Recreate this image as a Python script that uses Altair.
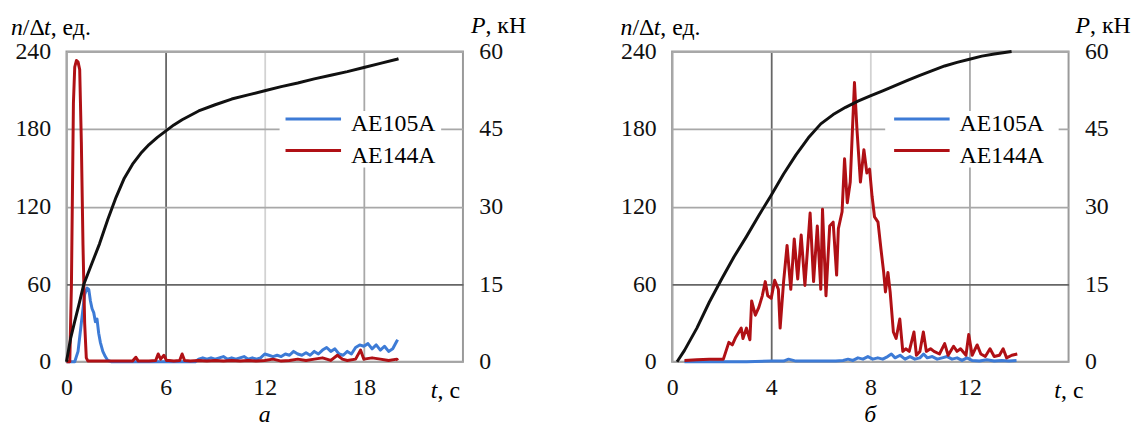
import altair as alt
import pandas as pd

SERIES = ["AE105A", "AE144A"]
COLORS = ["#3d7bd6", "#b01015"]
BLACK = "#111111"

# ---------------- panel а ----------------
tA_P = [0, 0.25, 0.5, 0.75, 1.05, 1.5, 2.0, 2.5, 3.0, 3.5, 4.0, 4.5, 5.0, 5.5, 6.0, 6.5, 7.0,
        8.0, 9.0, 10.0, 11.0, 12.0, 13.0, 14.0, 15.0, 16.0, 17.0, 18.0, 19.0, 20.0, 20.1]
PA = [0, 4.5, 7.8, 11.0, 15.0, 18.7, 22.8, 27.5, 31.8, 35.5, 38.2, 40.3, 42.0, 43.4, 44.6, 45.8, 46.8,
      48.5, 49.7, 50.8, 51.6, 52.4, 53.2, 53.9, 54.7, 55.4, 56.1, 56.9, 57.7, 58.5, 58.6]

tA_105 = [0, 0.5, 0.7, 0.9, 1.1, 1.25, 1.35, 1.45, 1.55, 1.65, 1.75, 1.85, 1.95, 2.05, 2.2, 2.35, 2.5, 2.7,
          3.0, 5.0, 7.0, 7.8,
          8.0, 8.25, 8.5, 8.75, 9.0, 9.25, 9.5, 9.75, 10.0, 10.25, 10.5, 10.75, 11.0, 11.25, 11.5, 11.75,
          12.0, 12.25, 12.5, 12.75, 13.0, 13.25, 13.5, 13.75, 14.0, 14.25, 14.5, 14.75, 15.0, 15.25, 15.5,
          15.75, 16.0, 16.25, 16.5, 16.75, 17.0, 17.25, 17.5, 17.75, 18.0, 18.25, 18.5, 18.75, 19.0, 19.25,
          19.5, 19.75, 20.0, 20.05]
nA_105 = [0, 0, 8, 30, 52, 57, 56, 47, 41, 38, 31, 33, 22, 15, 8, 4, 1, 0,
          0, 0, 0, 0,
          2, 3, 2, 3, 2, 3, 4, 2, 3, 2, 3, 4, 2, 3, 2, 3,
          6, 5, 4, 5, 4, 6, 5, 8, 6, 5, 7, 5, 8, 6, 9,
          11, 8, 10, 6, 5, 8, 6, 11, 13, 12, 14, 10, 13, 9, 12,
          8, 10, 16, 17]

tA_144 = [0, 0.2, 0.3, 0.42, 0.5, 0.6, 0.7, 0.8, 0.9, 1.0, 1.1, 1.2, 1.3,
          1.5, 2.0, 2.5, 3.0, 3.5, 4.0, 4.2, 4.35, 5.0, 5.4, 5.55, 5.7, 5.9, 6.05, 6.2, 6.5, 6.85, 7.0, 7.15,
          7.5, 8.0, 8.5, 9.0, 9.5, 10.0, 10.5, 11.0, 11.5, 12.0, 12.5, 13.0, 13.5, 14.0, 14.5, 15.0, 15.5,
          16.0, 16.4, 16.7, 17.0, 17.5, 17.8, 18.0, 18.5, 19.0, 19.5, 20.0, 20.05]
nA_144 = [0, 0, 60, 200, 228, 233, 232, 226, 170, 90, 30, 3, 0.5,
          0.5, 0.5, 0.5, 0.5, 0.5, 0.5, 3.5, 0.5, 0.5, 1, 6, 2, 5, 1, 1, 0.5, 1, 6, 1,
          0.5, 1, 0.5, 1, 0.5, 1, 0.5, 1, 0.5, 1, 2, 0.5, 1, 2, 1, 2, 3,
          1, 5, 2, 1, 2, 9, 2, 3, 2, 1, 2, 1]

# ---------------- panel б ----------------
tB_P = [0.2, 0.5, 1.0, 1.5, 2.0, 2.5, 3.0, 3.5, 4.0, 4.5, 5.0, 5.5, 6.0, 6.5, 7.0, 7.5, 8.0, 8.5, 9.0,
        9.5, 10.0, 10.5, 11.0, 11.5, 12.0, 12.5, 13.0, 13.7]
PB = [0, 2.2, 6.5, 11.5, 16.0, 20.3, 24.2, 28.3, 32.2, 36.3, 40.0, 43.3, 46.0, 47.8, 49.2, 50.4, 51.4,
      52.4, 53.4, 54.4, 55.4, 56.3, 57.2, 57.9, 58.5, 59.1, 59.5, 60.0]

tB_105 = [0.5, 1, 2, 3, 4, 4.5, 4.7, 5, 6, 6.6, 6.9, 7.1, 7.3, 7.5, 7.7, 7.9, 8.1, 8.3, 8.5, 8.7, 8.85,
          9.0, 9.2, 9.4, 9.6, 9.8, 10.0, 10.15, 10.3, 10.5, 10.7, 10.9, 11.1, 11.3, 11.5, 11.7, 11.9, 12.1,
          12.4, 12.7, 13.0, 13.3, 13.6, 13.9]
nB_105 = [0, 0, 0, 0, 0.5, 0.5, 2, 0.5, 0.5, 0.5, 1, 2, 1, 3, 2, 4, 2, 3, 2, 4, 6,
          3, 5, 2, 4, 2, 3, 6, 3, 4, 2, 3, 4, 2, 3, 1, 3, 1,
          0.5, 1.5, 0.5, 1, 0.5, 1]

tB_144 = [0.5, 1.0, 1.5, 2.07, 2.29, 2.43, 2.57, 2.79, 2.86, 3.0, 3.14, 3.21, 3.36, 3.5, 3.64, 3.76, 3.86,
          4.0, 4.14, 4.29, 4.36, 4.5, 4.64, 4.79, 4.93, 5.07, 5.21, 5.36, 5.57, 5.71, 5.86, 6.0, 6.07, 6.21,
          6.36, 6.5, 6.64, 6.71, 6.86, 6.96, 7.07, 7.19, 7.29, 7.36, 7.46, 7.6, 7.74, 7.86, 7.97, 8.07, 8.17,
          8.31, 8.43, 8.54, 8.61, 8.71, 8.8, 8.93, 9.04, 9.19, 9.31, 9.43, 9.57, 9.76, 9.86, 10.0, 10.14,
          10.26, 10.43, 10.57, 10.79, 11.0, 11.14, 11.36, 11.5, 11.64, 11.86, 11.97, 12.11, 12.31, 12.46,
          12.64, 12.83, 13.0, 13.21, 13.36, 13.5, 13.71, 13.93]
nB_144 = [1, 1.5, 2, 2, 15, 13, 19, 26, 18, 26, 17, 47, 36, 42, 51, 62, 51,
          49, 63, 56, 26, 62, 90, 56, 95, 64, 98, 59, 115, 62, 105, 56, 118, 51,
          105, 108, 67, 103, 116, 157, 123, 139, 185, 216, 180, 139, 164, 146, 149, 128, 112,
          108, 87, 69, 54, 69, 54, 23, 18, 33, 8, 10, 8, 23, 5, 8, 23,
          8, 10, 8, 6, 14, 5, 12, 8, 10, 5, 21, 5, 13, 6,
          4, 10, 4, 5, 10, 3, 5, 6]

N_TICKS = [0, 60, 120, 180, 240]
P_TICKS = [0, 15, 30, 45, 60]

FONT_A = "Times New Roman"
FONT_B = "Liberation Serif"
FS = 24
W, H = 400, 313
ONE = pd.DataFrame({"k": [0]})


def txt(s, x, y, font, italic=False, align="left", size=FS):
    kw = dict(text=s, font=font, fontSize=size, align=align, baseline="alphabetic")
    if italic:
        kw["fontStyle"] = "italic"
    return alt.Chart(ONE).mark_text(**kw).encode(x=alt.value(x), y=alt.value(y))


def grid_color(dark, light):
    return {"condition": [{"test": f"datum.value == {dark}", "value": "#666666"},
                          {"test": f"datum.value == {light}", "value": "#d2d2d2"}],
            "value": "#a8a8a8"}


def panel(t105, n105, t144, n144, tP, P, xmax, xticks, title_x, p_x, tc_x, leg_dx, box, caption, font):
    dfn = pd.DataFrame({
        "t": t105 + t144,
        "n": n105 + n144,
        "s": [SERIES[0]] * len(t105) + [SERIES[1]] * len(t144),
    })
    dfP = pd.DataFrame({"t": tP, "P": P})
    x = alt.X("t:Q", scale=alt.Scale(domain=[0, xmax], nice=False, zero=False),
              axis=alt.Axis(values=xticks, title=None, grid=True, labelFlush=False, labelPadding=14,
                            labelFont=font, labelFontSize=FS, labelColor="#111111", ticks=False,
                            domain=False, gridWidth=1.8,
                            gridColor=grid_color(xticks[1], xticks[2])))
    lines = alt.Chart(dfn).mark_line(strokeWidth=3, strokeJoin="round").encode(
        x=x,
        y=alt.Y("n:Q", scale=alt.Scale(domain=[0, 240], nice=False),
                axis=alt.Axis(values=N_TICKS, title=None, grid=True, labelFlush=False, labelPadding=16,
                              labelFont=font, labelFontSize=FS, labelColor="#111111", ticks=False,
                              domain=False, gridWidth=1.8,
                              gridColor=grid_color(60, -1))),
        color=alt.Color("s:N", scale=alt.Scale(domain=SERIES, range=COLORS), legend=None),
        order=alt.Order("t:Q"),
    )
    black = alt.Chart(dfP).mark_line(strokeWidth=3, color=BLACK, strokeJoin="round").encode(
        x=alt.X("t:Q"),
        y=alt.Y("P:Q", scale=alt.Scale(domain=[0, 60], nice=False),
                axis=alt.Axis(values=P_TICKS, title=None, orient="right", grid=False,
                              labelFont=font, labelFontSize=FS, labelColor="#111111", ticks=False,
                              domain=False, labelFlush=False, labelPadding=16)),
    )
    bx = alt.Chart(ONE).mark_rect(fill="white").encode(
        x=alt.value(box[0]), x2=alt.value(box[1]), y=alt.value(60), y2=alt.value(117))
    leg = [bx]
    for i, (name, col) in enumerate(zip(SERIES, COLORS)):
        yy = 68 + 32 * i
        leg.append(alt.Chart(ONE).mark_rule(color=col, strokeWidth=3).encode(
            x=alt.value(221 + leg_dx), x2=alt.value(277 + leg_dx), y=alt.value(yy)))
        leg.append(txt(name, 287 + leg_dx, yy + 12, font))
    texts = [
        # n/Δt, ед.
        txt("n", title_x, -17, font, italic=True),
        txt("/Δ", title_x + 12, -17, font),
        txt("t", title_x + 33.4, -17, font, italic=True),
        txt(", ед.", title_x + 40.1, -17, font),
        # P, кН
        txt("P", p_x, -19, font, italic=True),
        txt(", кН", p_x + 14.7, -19, font),
        # t, с
        txt("t", tc_x - 22.7, H + 37, font, italic=True, align="right"),
        txt(", с", tc_x, H + 37, font, align="right"),
        # caption
        txt(caption, 200, H + 61, font, italic=True, align="center"),
    ]
    layer = alt.layer(lines, *leg, black, *texts).resolve_scale(y="independent")
    return layer.properties(width=W, height=H)


left = panel(tA_105, nA_105, tA_144, nA_144, tA_P, PA, 24, [0, 6, 12, 18],
             -56, 408, 397, 0, (215, 378), "а", FONT_A)
right = panel(tB_105, nB_105, tB_144, nB_144, tB_P, PB, 16, [0, 4, 8, 12],
              -52, 407, 415, 3, (215, 390), "б", FONT_B)

chart = alt.hconcat(left, right, spacing=93).properties(
    padding={"left": 2, "top": 3, "right": 0, "bottom": 0},
).configure_view(
    stroke="#9a9a9a", strokeWidth=2
)

chart.save("out.html", embed_options={"renderer": "svg", "actions": False})
